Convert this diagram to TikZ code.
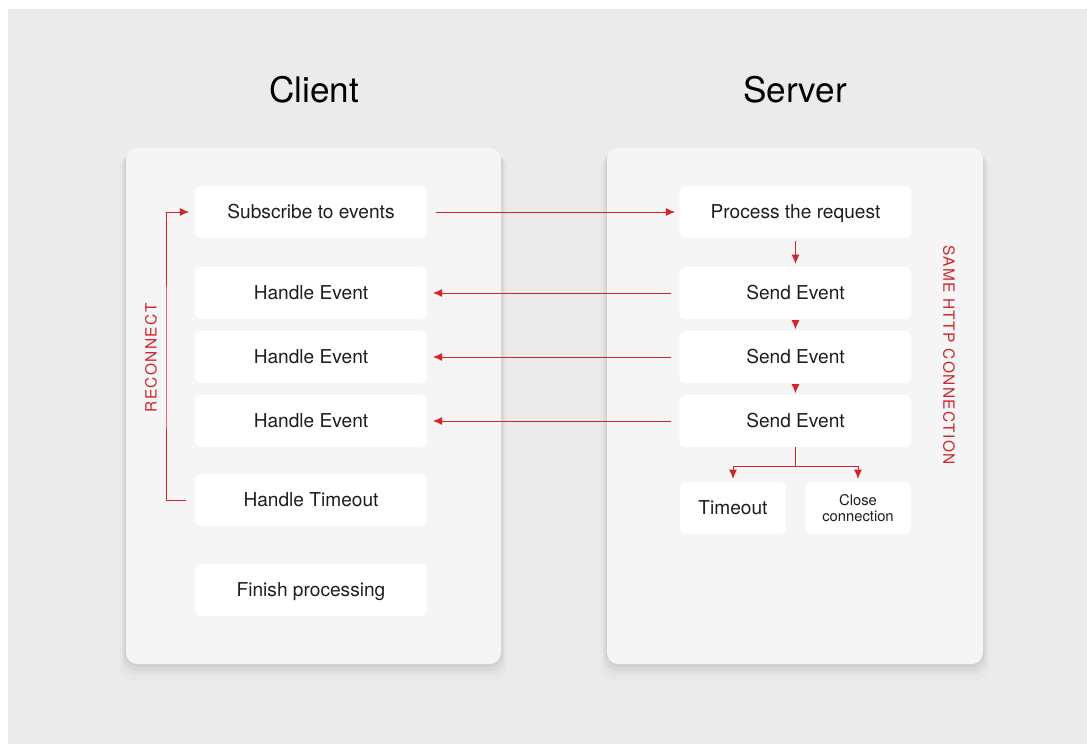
\documentclass[tikz,border=0pt]{standalone}
\usepackage{fontspec}
\setmainfont{TeX Gyre Heros}
\newfontfamily\spacedfont[LetterSpace=9]{TeX Gyre Heros}
\usetikzlibrary{arrows.meta,positioning,calc}

\definecolor{bggray}{RGB}{235,235,235}
\definecolor{panelgray}{RGB}{245,245,245}
\definecolor{linered}{RGB}{208,36,46}
\definecolor{textdark}{RGB}{30,30,30}

\tikzset{
  basebox/.style={fill=white, rounded corners=4pt, minimum width=5.8cm, minimum height=1.3cm,
    inner sep=0pt, text=textdark},
  box/.style={basebox, font=\fontsize{13.6}{16}\selectfont, text height=2ex, text depth=0.3ex},
  smallbox/.style={box, minimum width=2.65cm},
  panel/.style={fill=panelgray, rounded corners=8pt},
  flow/.style={draw=linered, line width=0.65pt, -{Latex[length=2.3mm,width=2mm]}},
  title/.style={text=black, font=\fontsize{25}{29}\selectfont},
  sidelabel/.style={text=linered, font=\spacedfont\fontsize{11}{13}\selectfont},
}

\begin{document}
\begin{tikzpicture}[x=0.025cm, y=-0.025cm]
	\useasboundingbox (0,0) rectangle (1087,744);
	
	% background
	\fill[bggray] (8,9) rectangle (1087,744);
	
	\def\top{148} % top of the panels
	\def\bot{664} % bottom of the panels
	
	% soft shadow under the panels
	\foreach \s/\o in {16/0.015, 11/0.025, 7/0.035, 3/0.045} {
		\fill[black, opacity=\o, rounded corners=10pt] (126-\s*0.4, \top+\s*0.4) rectangle (501+\s*0.4, \bot+\s);
		\fill[black, opacity=\o, rounded corners=10pt] (607-\s*0.4, \top+\s*0.4) rectangle (983+\s*0.4, \bot+\s);
	}
	
	% panels
	\fill[panel] (126,\top) rectangle (501,\bot);
	\fill[panel] (607,\top) rectangle (983,\bot);
	
	% titles
	\node[title] (client) at (314,90) {Client};
	\node[title] (server) at (795,90) {Server};
	
	% client column
	\def\cx{311} % center of client boxes
	\node[box] (subscribe) at (\cx,212) {Subscribe to events};
	\node[box] (handlea) at (\cx,293) {Handle Event};
	\node[box] (handleb) at (\cx,357) {Handle Event};
	\node[box] (handlec) at (\cx,421) {Handle Event};
	\node[box] (handletimeout) at (\cx,500) {Handle Timeout};
	\node[box] (finish) at (\cx,590) {Finish processing};
	
	% server column
	\def\sx{795.5} % center of server boxes
	\node[box] (process) at (\sx,212) {Process the request};
	\node[box] (senda) at (\sx,293) {Send Event};
	\node[box] (sendb) at (\sx,357) {Send Event};
	\node[box] (sendc) at (\sx,421) {Send Event};
	\node[smallbox] (timeout) at (733,508) {Timeout};
	\node[basebox, minimum width=2.65cm, align=center, font=\fontsize{10.5}{11}\selectfont] (close) at (858,508) {Close\\connection};
	
	% request and events
	\draw[flow, shorten <=6pt, shorten >=3pt] (subscribe.east) -- (process.west);
	\draw[flow, shorten <=6pt, shorten >=4pt] (senda.west) -- (handlea.east);
	\draw[flow, shorten <=6pt, shorten >=4pt] (sendb.west) -- (handleb.east);
	\draw[flow, shorten <=6pt, shorten >=4pt] (sendc.west) -- (handlec.east);
	
	% server steps
	\draw[flow, shorten <=2pt, shorten >=2pt] (process.south) -- (senda.north);
	\draw[flow, shorten <=2pt, shorten >=1pt] (senda.south) -- (sendb.north);
	\draw[flow, shorten <=2pt, shorten >=1pt] (sendb.south) -- (sendc.north);
	
	% fork to timeout / close
	\coordinate (fork) at (\sx,466);
	\draw[linered, line width=0.65pt] (sendc.south) -- (fork);
	\draw[flow, shorten >=2pt] (fork) -| (timeout.north);
	\draw[flow, shorten >=2pt] (fork) -| (close.north);
	
	% reconnect loop
	\coordinate (loop) at (166,358);
	\draw[flow, shorten <=6pt, shorten >=4pt] (handletimeout.west) -| (loop) |- (subscribe.west);
	\node[sidelabel, rotate=90] (reconnect) at (151,358) {RECONNECT};
	
	% connection label
	\node[sidelabel, rotate=-90] (samehttp) at (949,355) {SAME HTTP CONNECTION};
\end{tikzpicture}
\end{document}
